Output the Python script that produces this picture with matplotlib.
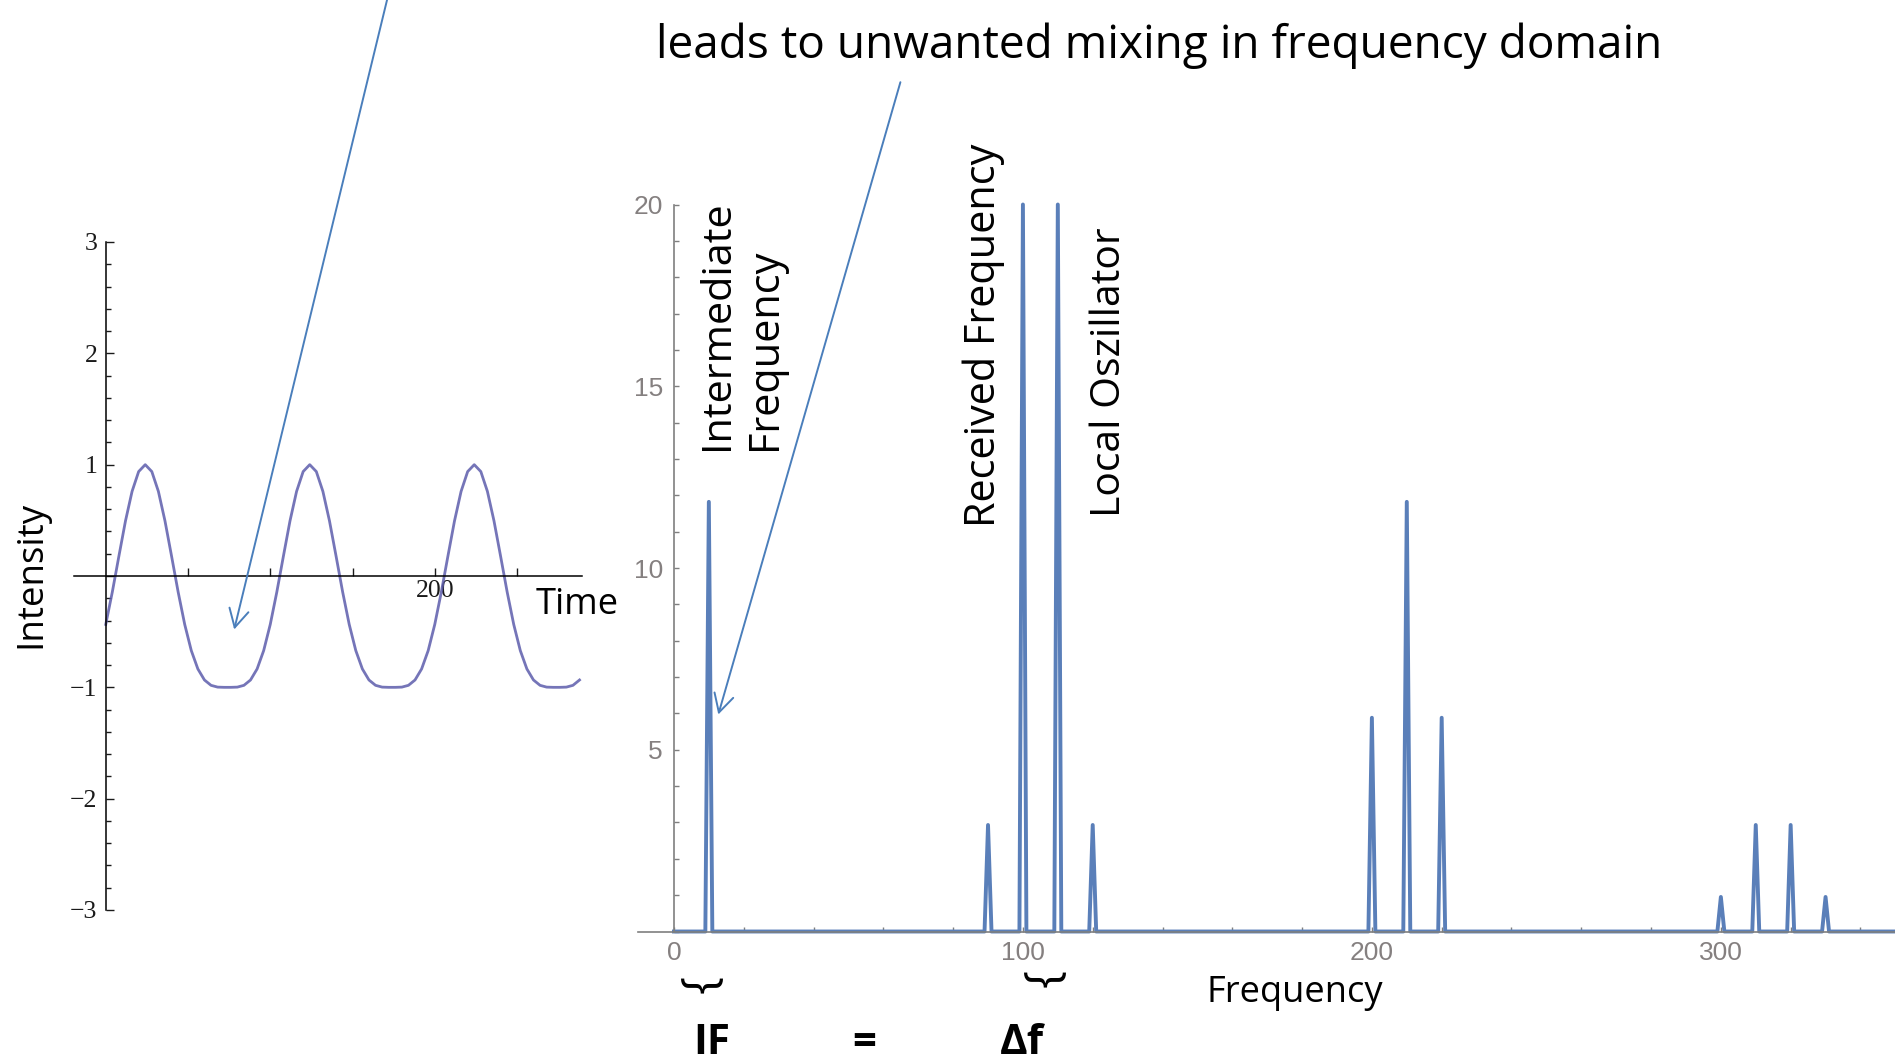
#!/usr/bin/env python3
"""
plot.py -- superheterodyne mixing slide: time signal (left) + spectrum (right),
with the hand-placed slide annotations (arrows, braces, IF = delta f).
"""
import numpy as np
import matplotlib
matplotlib.use("Agg")
import matplotlib.pyplot as plt
from matplotlib.ticker import MultipleLocator, FixedLocator, FuncFormatter
from matplotlib.patches import FancyArrowPatch

# ---- data ----
# time-domain signal, sampled every 4 time units (period ~100, peaks at 24/124/224)
TIME = np.arange(0, 289, 4)
INTENSITY = [
    -0.435, -0.143, 0.179, 0.495, 0.760, 0.938, 1.000, 0.938, 0.760, 0.495,
    0.179, -0.143, -0.435, -0.670, -0.835, -0.934, -0.982, -0.998, -1.000, -1.000,
    -0.998, -0.982, -0.934, -0.835, -0.670,
    -0.435, -0.143, 0.179, 0.495, 0.760, 0.938, 1.000, 0.938, 0.760, 0.495,
    0.179, -0.143, -0.435, -0.670, -0.835, -0.934, -0.982, -0.998, -1.000, -1.000,
    -0.998, -0.982, -0.934, -0.835, -0.670,
    -0.435, -0.143, 0.179, 0.495, 0.760, 0.938, 1.000, 0.938, 0.760, 0.495,
    0.179, -0.143, -0.435, -0.670, -0.835, -0.934, -0.982, -0.998, -1.000, -1.000,
    -0.998, -0.982, -0.934,
]
# spectrum: integer frequency bins, zero except at these lines
FREQ_MAX = 350
PEAK_FREQ = [10, 90, 100, 110, 120, 200, 210, 220, 300, 310, 320, 330]
PEAK_AMP = [11.82, 2.93, 20.0, 20.0, 2.93, 5.88, 11.82, 5.88, 0.95, 2.93, 2.93, 0.95]

freq = np.arange(0, FREQ_MAX + 1)
amp = np.zeros(len(freq))
amp[PEAK_FREQ] = PEAK_AMP

W, H = 1895, 1064
SANS = ["Open Sans", "DejaVu Sans"]
BLUE_ARROW = "#4a7ebb"

fig = plt.figure(figsize=(W / 100, H / 100), dpi=100)


def px_axes(x0, x1, ytop, ybot):
    # axes box given in figure pixels (origin top-left)
    return fig.add_axes([x0 / W, 1 - ybot / H, (x1 - x0) / W, (ybot - ytop) / H])


# ---- left: time signal, Mathematica-style crossing axes ----
ax1 = px_axes(74, 582, 242, 910)
ax1.patch.set_alpha(0)
ax1.plot(TIME, INTENSITY, color="#5d5dac", lw=2.0, alpha=0.85)
ax1.set_xlim(-19.3, 289.5)
ax1.set_ylim(-3, 3)
for s in ("top", "right"):
    ax1.spines[s].set_visible(False)
for s in ("left", "bottom"):
    ax1.spines[s].set_position(("data", 0))
    ax1.spines[s].set_linewidth(1.1)
ax1.xaxis.set_major_locator(FixedLocator([50, 100, 150, 200, 250]))
ax1.xaxis.set_major_formatter(FuncFormatter(lambda v, p: "200" if v == 200 else ""))
ax1.yaxis.set_major_locator(MultipleLocator(1))
ax1.yaxis.set_minor_locator(MultipleLocator(0.2))
ax1.yaxis.set_major_formatter(FuncFormatter(
    lambda v, p: "" if abs(v) < 1e-9 else f"{v:.0f}".replace("-", "\u2212")))
ax1.tick_params(axis="both", which="major", direction="in", length=5.8, width=1.0,
                labelsize=18.5, colors="#1a1a1a")
ax1.tick_params(axis="y", which="minor", direction="in", length=3.6, width=1.0,
                colors="#1a1a1a")
ax1.tick_params(axis="x", pad=3)
ax1.tick_params(axis="y", pad=6)
for lab in ax1.get_xticklabels() + ax1.get_yticklabels():
    lab.set_fontfamily(["Liberation Serif", "DejaVu Serif"])

# ---- right: spectrum ----
AX_GRAY = "#7f7f7f"
ax2 = px_axes(638, 1895, 204.5, 931.5)
ax2.patch.set_alpha(0)
ax2.plot(freq, amp, color="#5a7fb9", lw=2.8, clip_on=False)
ax2.set_xlim(-10.3, 349.9)
ax2.set_ylim(0, 20)
for s in ("top", "right"):
    ax2.spines[s].set_visible(False)
for s in ("left", "bottom"):
    ax2.spines[s].set_position(("data", 0))
    ax2.spines[s].set_linewidth(1.2)
    ax2.spines[s].set_color(AX_GRAY)
ax2.xaxis.set_major_locator(MultipleLocator(100))
ax2.xaxis.set_minor_locator(MultipleLocator(20))
ax2.yaxis.set_major_locator(FixedLocator([5, 10, 15, 20]))
ax2.yaxis.set_minor_locator(MultipleLocator(1))
ax2.tick_params(axis="both", which="both", direction="in", length=3.6, width=1.0,
                color=AX_GRAY, labelcolor="#858080", labelsize=19)
ax2.tick_params(axis="x", pad=7)
ax2.tick_params(axis="y", pad=8)
for lab in ax2.get_xticklabels() + ax2.get_yticklabels():
    lab.set_fontfamily(["Liberation Sans", "DejaVu Sans"])

# ---- overlay in figure pixels for the slide annotations ----
ov = fig.add_axes([0, 0, 1, 1])
ov.set_xlim(0, W)
ov.set_ylim(H, 0)
ov.axis("off")
ov.set_zorder(5)

renderer = fig.canvas.get_renderer()


def fit(t, length, vertical=False):
    # scale font so the drawn text spans `length` pixels
    bb = t.get_window_extent(renderer)
    cur = bb.height if vertical else bb.width
    t.set_fontsize(t.get_fontsize() * length / cur)
    return t


def label(x, y, s, length, rot=0):
    t = ov.text(x, y, s, rotation=rot, rotation_mode="anchor", ha="left",
                va="baseline", fontsize=30, family=SANS, color="black")
    return fit(t, length, vertical=(rot != 0))


label(656, 58, "leads to unwanted mixing in frequency domain", 1009)
label(728, 449.6, "Intermediate", 250, rot=90)
label(776, 449.6, "Frequency", 202, rot=90)
label(995, 527, "Received Frequency", 385, rot=90)
label(1120, 516.7, "Local Oszillator", 289, rot=90)
label(40, 648, "Intensity", 147, rot=90)
label(535.7, 614, "Time", 83)
label(1206, 1002, "Frequency", 176)

# braces under the IF line and under the 100/110 pair
for bx, by in [(699.5, 986), (1042.5, 980)]:
    b = ov.text(bx, by, "}", rotation=-90, ha="center", va="center",
                fontsize=30, family=SANS, color="black")
    bb = b.get_window_extent(renderer)
    b.set_fontsize(b.get_fontsize() * 48 / bb.width)

# IF = delta f
t_if = ov.text(711.5, 1054, "IF", ha="center", va="baseline", fontsize=30,
               family=SANS, fontweight="bold")
fit(t_if, 37)
fs_eq = t_if.get_fontsize()
ov.text(864, 1054, "=", ha="center", va="baseline", fontsize=fs_eq,
        family=SANS, fontweight="bold")
ov.text(1022, 1054, "\u0394f", ha="center", va="baseline", fontsize=fs_eq,
        family=SANS, fontweight="bold")

# arrows
for start, tip in [((388, -4), (234.2, 629.5)), ((900.4, 82.2), (718.3, 714.5))]:
    ov.add_patch(FancyArrowPatch(start, tip, arrowstyle="->,head_length=0.65,head_width=0.35",
                                 mutation_scale=20, lw=1.4, color=BLUE_ARROW,
                                 shrinkA=0, shrinkB=0, clip_on=False))

fig.savefig("out.png", dpi=100)
print("saved out.png")
